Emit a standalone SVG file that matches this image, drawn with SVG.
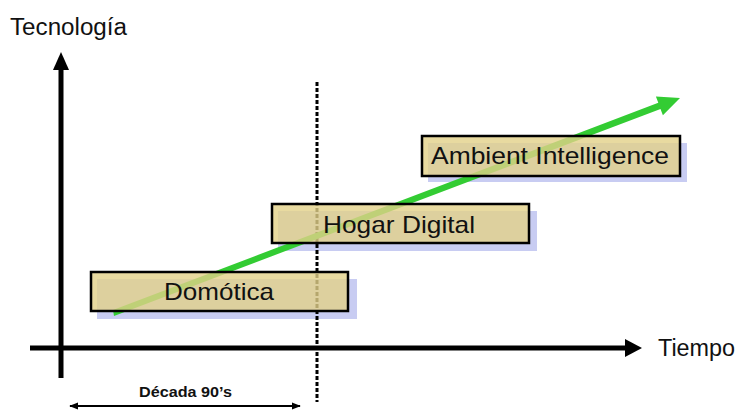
<svg xmlns="http://www.w3.org/2000/svg" width="738" height="411" viewBox="0 0 738 411">
<style>
.lbl{font-family:"Liberation Sans",Arial,sans-serif;fill:#111;}
.axis{stroke:#000;stroke-width:5;fill:none;}
.shadow{fill:#C8CCF2;}
.box{fill:#E2D188;fill-opacity:0.8;stroke:#000;stroke-width:2.5;}
.boxtxt{font-family:"Liberation Sans",Arial,sans-serif;font-size:24px;fill:#111;text-anchor:middle;}
</style>
<defs>
<marker id="dbl" viewBox="0 0 10 10" refX="9" refY="5" markerWidth="9" markerHeight="9" orient="auto-start-reverse" markerUnits="userSpaceOnUse">
<path d="M0,1 L10,5 L0,9 Z" fill="#000"/>
</marker>
</defs>
<rect width="738" height="411" fill="#fff"/>
<g id="shadows">
<rect class="shadow" x="97" y="279" width="260" height="40"/>
<rect class="shadow" x="278" y="211" width="259" height="40"/>
<rect class="shadow" x="428" y="143" width="259" height="39"/>
</g>
<g id="connectors">
<line class="axis" x1="61" y1="378" x2="61" y2="66"/>
<polygon points="61,52 53,70 69,70" fill="#000"/>
<line class="axis" x1="30" y1="348" x2="628" y2="348"/>
<polygon points="642,348 625,339 625,357" fill="#000"/>
<line x1="317" y1="82" x2="317" y2="402" stroke="#000" stroke-width="3" stroke-dasharray="4,2"/>
<line x1="70" y1="406" x2="300" y2="406" stroke="#000" stroke-width="2" marker-start="url(#dbl)" marker-end="url(#dbl)"/>
<polygon points="113,310 114,316 660.5,109 662.9,115.2 680,98 655.9,96.4 658.3,102.8" fill="#33CC33"/>
</g>
<g id="node-domotica">
<rect class="box" x="91" y="272" width="257" height="39"/>
<text class="boxtxt" x="219" y="300" textLength="110" lengthAdjust="spacingAndGlyphs">Domótica</text>
</g>
<g id="node-hogar">
<rect class="box" x="272" y="204" width="257" height="39"/>
<text class="boxtxt" x="399" y="233" textLength="152" lengthAdjust="spacingAndGlyphs">Hogar Digital</text>
</g>
<g id="node-ambient">
<rect class="box" x="422" y="136" width="258" height="40"/>
<text class="boxtxt" x="550" y="164" textLength="238" lengthAdjust="spacingAndGlyphs">Ambient Intelligence</text>
</g>
<g id="label-tecnologia">
<text class="lbl" x="10" y="35" font-size="23" textLength="117" lengthAdjust="spacingAndGlyphs">Tecnología</text>
</g>
<g id="label-tiempo">
<text class="lbl" x="658" y="356" font-size="23" textLength="77" lengthAdjust="spacingAndGlyphs">Tiempo</text>
</g>
<g id="label-decada">
<text class="lbl" x="139" y="397" font-size="15" font-weight="bold" textLength="93" lengthAdjust="spacingAndGlyphs">Década 90’s</text>
</g>
</svg>
